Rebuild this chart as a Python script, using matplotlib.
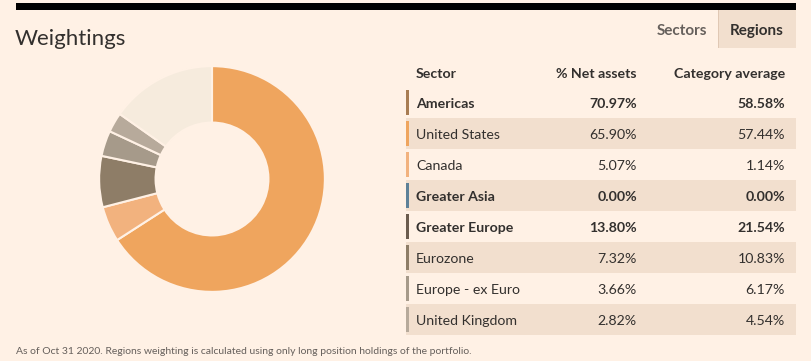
import matplotlib
matplotlib.use("Agg")
import matplotlib.pyplot as plt
from matplotlib.patches import Rectangle

# data
regions = ["Americas", "United States", "Canada", "Greater Asia",
           "Greater Europe", "Eurozone", "Europe - ex Euro", "United Kingdom"]
net_assets = [70.97, 65.90, 5.07, 0.00, 13.80, 7.32, 3.66, 2.82]
category_avg = [58.58, 57.44, 1.14, 0.00, 21.54, 10.83, 6.17, 4.54]
is_group = [True, False, False, True, True, False, False, False]
bar_colors = ["#A87C52", "#EFA55E", "#F2B27E", "#5E8198",
              "#6B5C4E", "#8E7D67", "#A69A8A", "#B7AA9B"]

pie_labels = ["United States", "Canada", "Eurozone", "Europe - ex Euro", "United Kingdom"]
pie_values = [65.90, 5.07, 7.32, 3.66, 2.82]
pie_colors = ["#EFA55E", "#F2B27E", "#8E7D67", "#A69A8A", "#B7AA9B"]
rest_color = "#F6EBDD"

BG = "#FFF1E5"
SHADE = "#F2DFCE"
DARK = "#33302E"
GREY = "#66605C"
W, H = 812, 361

plt.rcParams["font.family"] = ["Lato", "DejaVu Sans"]

fig = plt.figure(figsize=(W / 100, H / 100), dpi=100, facecolor=BG)


def px(x, y):
    return x / W, 1 - y / H


def rect(x0, y0, x1, y1, color, **kw):
    fig.patches.append(Rectangle(px(x0, y1), (x1 - x0) / W, (y1 - y0) / H,
                                 transform=fig.transFigure, color=color,
                                 lw=0, **kw))


# top black rule
rect(16, 3, 796, 10, "black")

# title
fig.text(*px(15, 39), "Weightings", fontsize=16, color=DARK, va="center")

# tabs
rect(718, 10, 796, 48, SHADE)
rect(718, 10, 719, 48, "#E0C8B4")
fig.text(*px(682, 31), "Sectors", fontsize=11, color=GREY,
         fontweight="bold", ha="center", va="center")
fig.text(*px(757, 31), "Regions", fontsize=11, color=DARK,
         fontweight="bold", ha="center", va="center")

# donut
ax = fig.add_axes([98 / W, (H - 293) / H, 228 / W, 228 / H])
ax.set_facecolor(BG)
rest = 100 - sum(pie_values)
ax.pie(pie_values + [rest], colors=pie_colors + [rest_color],
       startangle=90, counterclock=False, radius=1,
       wedgeprops=dict(width=0.5, edgecolor=BG, linewidth=1.5))
ax.set_xlim(-1.01, 1.01)
ax.set_ylim(-1.01, 1.01)
ax.set_aspect("equal")
ax.axis("off")

# table
col_name, col_net, col_cat = 416, 637, 785
fs = 10.2
fig.text(*px(col_name, 74), "Sector", fontsize=fs, color=DARK,
         fontweight="bold", va="center")
fig.text(*px(col_net, 74), "% Net assets", fontsize=fs, color=DARK,
         fontweight="bold", va="center", ha="right")
fig.text(*px(col_cat, 74), "Category average", fontsize=fs, color=DARK,
         fontweight="bold", va="center", ha="right")

row_h = 31
top = 87
for i, name in enumerate(regions):
    y0 = top + i * row_h
    yc = y0 + row_h / 2 + 1.5
    if i % 2 == 1:
        rect(406, y0, 796, y0 + row_h, SHADE)
    rect(406, y0 + 3, 409, y0 + row_h - 3, bar_colors[i])
    weight = "bold" if is_group[i] else "normal"
    fig.text(*px(col_name, yc), name, fontsize=fs, color=DARK,
             fontweight=weight, va="center")
    fig.text(*px(col_net, yc), f"{net_assets[i]:.2f}%", fontsize=fs,
             color=DARK, fontweight=weight, va="center", ha="right")
    fig.text(*px(col_cat, yc), f"{category_avg[i]:.2f}%", fontsize=fs,
             color=DARK, fontweight=weight, va="center", ha="right")

fig.text(*px(16, 351), "As of Oct 31 2020. Regions weighting is calculated "
         "using only long position holdings of the portfolio.",
         fontsize=7.5, color=GREY, va="center")

fig.savefig("out.png", dpi=100, facecolor=BG)
